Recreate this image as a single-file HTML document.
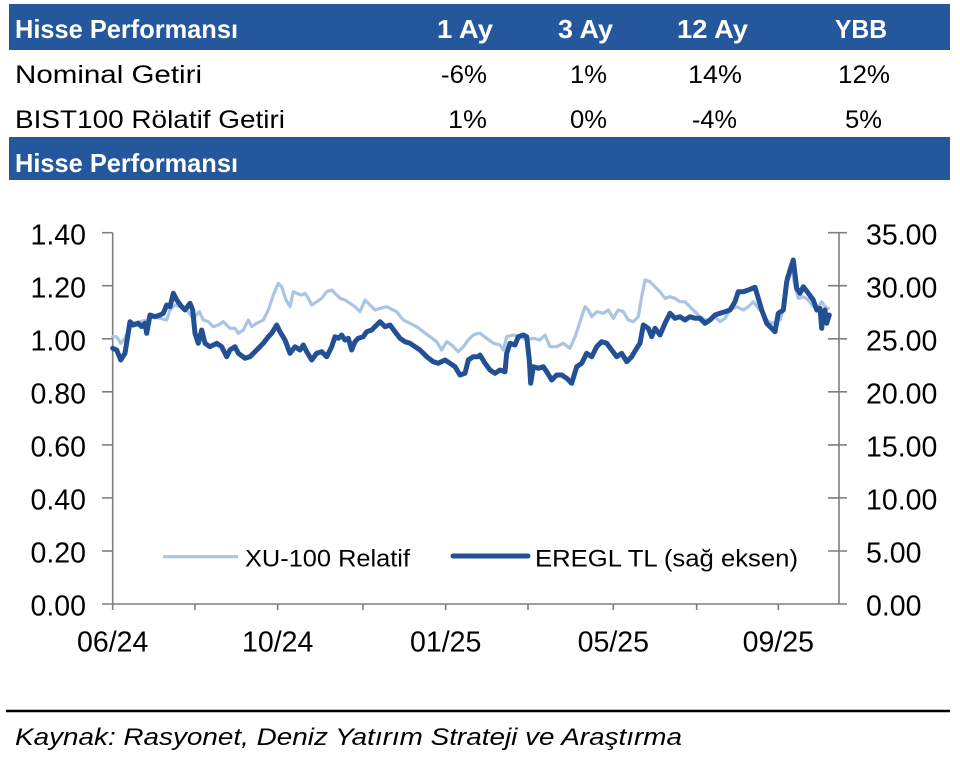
<!DOCTYPE html>
<html><head><meta charset="utf-8"><style>
html,body{margin:0;padding:0;background:#fff;}
svg{display:block;}
text{font-family:"Liberation Sans",Arial,sans-serif;}
</style></head><body>
<svg width="960" height="761" viewBox="0 0 960 761" xmlns="http://www.w3.org/2000/svg">
<rect width="960" height="761" fill="#fff"/>
<!-- table -->
<rect x="9" y="4" width="941" height="46" fill="#24579b"/>
<rect x="9" y="137" width="941" height="43" fill="#24579b"/>
<g font-weight="bold" fill="#fff" font-size="26">
<text x="15" y="38" textLength="223" lengthAdjust="spacingAndGlyphs">Hisse Performansı</text>
<text x="437" y="38" textLength="56" lengthAdjust="spacingAndGlyphs">1 Ay</text>
<text x="558" y="38" textLength="55" lengthAdjust="spacingAndGlyphs">3 Ay</text>
<text x="677" y="38" textLength="71" lengthAdjust="spacingAndGlyphs">12 Ay</text>
<text x="835" y="38" textLength="52" lengthAdjust="spacingAndGlyphs">YBB</text>
<text x="15" y="172" textLength="223" lengthAdjust="spacingAndGlyphs">Hisse Performansı</text>
</g>
<g fill="#000" font-size="25">
<text x="15" y="83" textLength="187" lengthAdjust="spacingAndGlyphs">Nominal Getiri</text>
<text x="441" y="83" textLength="46" lengthAdjust="spacingAndGlyphs">-6%</text>
<text x="570" y="83" textLength="37" lengthAdjust="spacingAndGlyphs">1%</text>
<text x="688" y="83" textLength="54" lengthAdjust="spacingAndGlyphs">14%</text>
<text x="838" y="83" textLength="52" lengthAdjust="spacingAndGlyphs">12%</text>
<text x="15" y="128" textLength="270" lengthAdjust="spacingAndGlyphs">BIST100 Rölatif Getiri</text>
<text x="448" y="128" textLength="39" lengthAdjust="spacingAndGlyphs">1%</text>
<text x="570" y="128" textLength="37" lengthAdjust="spacingAndGlyphs">0%</text>
<text x="692" y="128" textLength="45" lengthAdjust="spacingAndGlyphs">-4%</text>
<text x="845" y="128" textLength="37" lengthAdjust="spacingAndGlyphs">5%</text>
</g>
<!-- axes -->
<g stroke="#7f7f7f" stroke-width="1.6" fill="none">
<line x1="112.7" y1="232.7" x2="112.7" y2="604"/>
<line x1="839" y1="232.7" x2="839" y2="604"/>
<line x1="102" y1="604" x2="847" y2="604"/>
<line x1="102" y1="232.7" x2="112.7" y2="232.7"/>
<line x1="102" y1="285.7" x2="112.7" y2="285.7"/>
<line x1="102" y1="338.8" x2="112.7" y2="338.8"/>
<line x1="102" y1="391.8" x2="112.7" y2="391.8"/>
<line x1="102" y1="444.9" x2="112.7" y2="444.9"/>
<line x1="102" y1="497.9" x2="112.7" y2="497.9"/>
<line x1="102" y1="551" x2="112.7" y2="551"/>
<line x1="828" y1="232.7" x2="847" y2="232.7"/>
<line x1="828" y1="285.7" x2="847" y2="285.7"/>
<line x1="828" y1="338.8" x2="847" y2="338.8"/>
<line x1="828" y1="391.8" x2="847" y2="391.8"/>
<line x1="828" y1="444.9" x2="847" y2="444.9"/>
<line x1="828" y1="497.9" x2="847" y2="497.9"/>
<line x1="828" y1="551" x2="847" y2="551"/>
<line x1="112.7" y1="604" x2="112.7" y2="610"/>
<line x1="195" y1="604" x2="195" y2="610"/>
<line x1="277.7" y1="604" x2="277.7" y2="610"/>
<line x1="363" y1="604" x2="363" y2="610"/>
<line x1="445.7" y1="604" x2="445.7" y2="610"/>
<line x1="528" y1="604" x2="528" y2="610"/>
<line x1="613.3" y1="604" x2="613.3" y2="610"/>
<line x1="696.7" y1="604" x2="696.7" y2="610"/>
<line x1="778.3" y1="604" x2="778.3" y2="610"/>
</g>
<g font-size="28.5" fill="#000" text-anchor="end">
<text x="86" y="244.5">1.40</text>
<text x="86" y="297.5">1.20</text>
<text x="86" y="350.5">1.00</text>
<text x="86" y="403.5">0.80</text>
<text x="86" y="456.5">0.60</text>
<text x="86" y="509.5">0.40</text>
<text x="86" y="562.5">0.20</text>
<text x="86" y="615.5">0.00</text>
</g>
<g font-size="28.5" fill="#000" text-anchor="start">
<text x="866" y="244.5">35.00</text>
<text x="866" y="297.5">30.00</text>
<text x="866" y="350.5">25.00</text>
<text x="866" y="403.5">20.00</text>
<text x="866" y="456.5">15.00</text>
<text x="866" y="509.5">10.00</text>
<text x="866" y="562.5">5.00</text>
<text x="866" y="615.5">0.00</text>
</g>
<g font-size="28.5" fill="#000" text-anchor="middle">
<text x="112.7" y="651.5">06/24</text>
<text x="277.7" y="651.5">10/24</text>
<text x="445.7" y="651.5">01/25</text>
<text x="613.3" y="651.5">05/25</text>
<text x="778.3" y="651.5">09/25</text>
</g>
<!-- series -->
<polyline fill="none" stroke="#a9c4e4" stroke-width="3.2" stroke-linejoin="round" stroke-linecap="round" points="112.7,336.7 116.7,336.7 120.7,343.3 125,338.3 128.3,330 133.3,323.3 140,321.7 146.7,320 153.3,316.7 160,318.3 166.7,320 170,310 175,305 180,306.7 186.7,310 191.7,316.7 195,316.7 199.3,311.7 203.3,320 208.3,321.7 213.3,326.7 218.3,325 223.3,321.7 230,328.3 235,328.3 238.3,333.3 243.3,330 248.3,320 251.7,326.7 256.7,323.3 263.3,320 268.3,310 273.3,295 278.3,283.3 281.7,286.7 286,300 290,306.7 293.3,291.7 296.7,293.3 301.7,295 305,293.3 308.3,298.3 311.7,305 316.7,301.7 321.7,298.3 326.7,291.7 331.7,290 335,293.3 340,298.3 345,300 350,303.3 355,306.7 360,311.7 365,300 370,305 375,310 380,308.3 386.7,306.7 396.7,311.7 403.3,320 410,323.3 416.7,326.7 423.3,331.7 430,336.7 436.7,341.7 441.7,350 446.7,341.7 451.7,345 458.3,351.7 463.3,346.7 468.3,340 473.3,335 478.3,333.3 480,333.3 486.7,338.3 493.3,343.3 500,345 503.3,350 506.7,336.7 513.3,335 520,336.7 526.7,340 533.3,338.3 540,340 545,335 550,346.7 556.7,346.7 563.3,343.3 570,348.3 575,336.7 580,321.7 585,306.7 588.3,310 591.7,316.7 596.7,311.7 603.3,313.3 608.3,310 613.3,318.3 618.3,310 623.3,311.7 628.3,320 633.3,321.7 638.3,316.7 641.7,296.7 645,280 650,281.7 655,286.7 660,291.7 665,298.3 670,296.7 675,298.3 680,301.7 685,301.7 690,306.7 695,311.7 700,316.7 705,320 710,320 715,316.7 720,321.7 725,318.3 730,310 736.7,306.7 743.3,310 748.3,306.7 753.3,301.7 758.3,308.3 763.3,313.3 766.7,320 771.7,323.3 776.7,321.7 780,320 783.3,310 786.7,276.7 791.7,268.3 795,286.7 798.3,298.3 803.3,296.7 808.3,300 813.3,306.7 818.3,306.7 821.7,301.7 825,306.7 828.3,308.3"/>
<polyline fill="none" stroke="#234f94" stroke-width="5" stroke-linejoin="round" stroke-linecap="round" points="112.7,348.3 116.7,350 120.7,360 125,353.3 130,321.7 133.3,325 138.3,323.3 141.7,326.7 145,323.3 146.7,333.3 150,315 155,316.7 160,315 163.3,313.3 166.7,305 170,306.7 173.3,293.3 176.7,300 181.7,306.7 185,310 190,303.3 192.7,310 195,333.3 198.3,343.3 201.7,330 205,343.3 210,346.7 216.7,343.3 221.7,346.7 226.7,356.7 230,350 235,346.7 238.3,353.3 245,358.3 250,356.7 256.7,350 263.3,343.3 268.3,336.7 271.7,333.3 276.7,325 280,331.7 285,340 290,353.3 295,346.7 300,350 303.3,345 306.7,351.7 311.7,360 316.7,353.3 321.7,351.7 326.7,356.7 331.7,346.7 335,336.7 338.3,338.3 341.7,335 345,340 348.3,338.3 351.7,350 355,341.7 358.3,338.3 363.3,336.7 366.7,331.7 371.7,330 376.7,325 380,321.7 385,326.7 390,325 395,331.7 400,338.3 405,341.7 410,343.3 415,346.7 420,350 426.7,356.7 433.3,361.7 438.3,363.3 445,360 450,363.3 455,366.7 460,375 465,373.3 468.3,360 473.3,356.7 478.3,356.7 480,355 485,363.3 490,370 495,373.3 500,370 505,371.7 506.7,353.3 510,343.3 515,345 518.3,336.7 523.3,335 526.7,336.7 529.3,360 530.7,383.3 533.3,366.7 538.3,368.3 543.3,366.7 546.7,371.7 551.7,380 556.7,375 561.7,375 566.7,378.3 571.7,383.3 576.7,366.7 581.7,363.3 586.7,353.3 591.7,356.7 596.7,346.7 601.7,341.7 606.7,343.3 611.7,350 616.7,356.7 621.7,353.3 626.7,361.7 631.7,356.7 636.7,348.3 640,343.3 643.3,325 648.3,328.3 651.7,336.7 655,328.3 660,335 665,323.3 670,313.3 675,318.3 680,316.7 685,320 690,316.7 695,318.3 700,318.3 705,323.3 710,320 715,315 720,313.3 725,311.7 730,310 735,301.7 738.3,291.7 743.3,291.7 748.3,290 755,287.3 758.3,298.3 761.7,310 766.7,323.3 771.7,328.3 775,331.7 778.3,313.3 783.3,310 786.7,281.7 790,270 793.3,260 796.7,288.3 800,293.3 803.3,286.7 808.3,293.3 813.3,300 816.7,310 820,308.3 821.7,328.3 823.3,313.3 825,310 826.7,323.3 829.3,315"/>
<!-- legend -->
<line x1="163" y1="556.7" x2="238" y2="556.7" stroke="#a9c4e4" stroke-width="3.2"/>
<line x1="453" y1="556" x2="528" y2="556" stroke="#234f94" stroke-width="5" stroke-linecap="round"/>
<g font-size="24" fill="#000">
<text x="245" y="566.5" textLength="165" lengthAdjust="spacingAndGlyphs">XU-100 Relatif</text>
<text x="535" y="566.5" textLength="263" lengthAdjust="spacingAndGlyphs">EREGL TL (sağ eksen)</text>
</g>
<!-- footer -->
<line x1="6" y1="711" x2="950" y2="711" stroke="#000" stroke-width="2.5"/>
<text x="15" y="745" font-size="24" font-style="italic" fill="#000" textLength="667" lengthAdjust="spacingAndGlyphs">Kaynak: Rasyonet, Deniz Yatırım Strateji ve Araştırma</text>
</svg>
</body></html>
